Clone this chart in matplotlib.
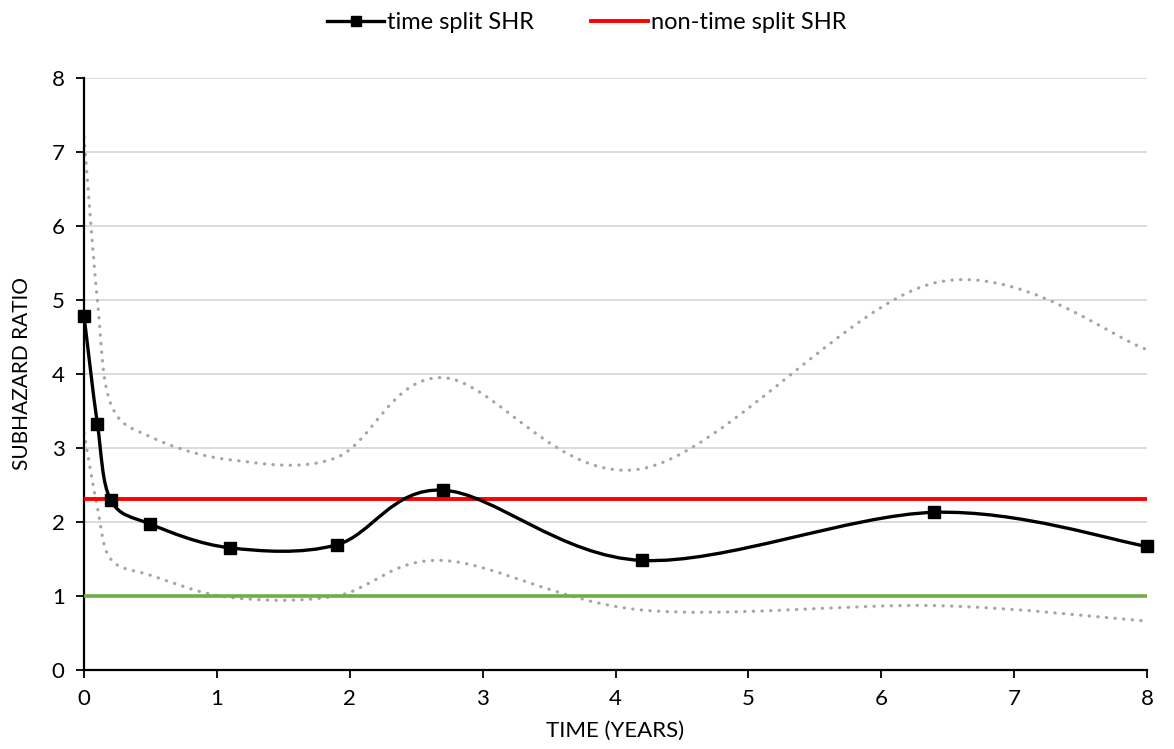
import numpy as np
import matplotlib
matplotlib.use("Agg")
from matplotlib import pyplot as plt
from matplotlib.path import Path
from matplotlib.patches import PathPatch
from matplotlib.lines import Line2D

plt.rcParams['font.family'] = ['Lato', 'DejaVu Sans']

# data
time = [0, 0.1, 0.2, 0.5, 1.1, 1.9, 2.7, 4.2, 6.4, 8]
shr = [4.78, 3.33, 2.30, 1.97, 1.65, 1.69, 2.43, 1.48, 2.13, 1.67]
upper_ci = [7.2, 5.0, 3.6, 3.15, 2.84, 2.87, 3.95, 2.72, 5.23, 4.33]
lower_ci = [3.2, 2.2, 1.5, 1.28, 0.98, 1.0, 1.48, 0.81, 0.87, 0.66]
shr_non_split = 2.31
ref_line = 1.0


def smooth_path(xs, ys):
    # excel-like smoothed line: cubic bezier through every point
    p = np.column_stack([xs, ys]).astype(float)
    n = len(p)
    verts = [p[0]]
    codes = [Path.MOVETO]
    for i in range(n - 1):
        p0 = p[i - 1] if i > 0 else p[i]
        p3 = p[i + 2] if i + 2 < n else p[i + 1]
        c1 = p[i] + (p[i + 1] - p0) / 6
        c2 = p[i + 1] - (p3 - p[i]) / 6
        verts += [c1, c2, p[i + 1]]
        codes += [Path.CURVE4] * 3
    return Path(verts, codes)


fig = plt.figure(figsize=(11.74, 7.49), dpi=100)
ax = fig.add_axes([0.0716, 0.1055, 0.9054, 0.7905])

ax.set_xlim(0, 8)
ax.set_ylim(0, 8)
ax.set_yticks(range(0, 9))
ax.set_xticks(range(0, 9))
ax.grid(axis='y', color='#d9d9d9', lw=1.3, zorder=0)
ax.set_axisbelow(True)

for ci in (upper_ci, lower_ci):
    ax.add_patch(PathPatch(smooth_path(time, ci), fill=False, edgecolor='#a5a5a5',
                           lw=2.3, linestyle=(0, (0.1, 2.6)), capstyle='round', zorder=2))

ax.axhline(ref_line, color='#70ad47', lw=2.6, zorder=3)
ax.axhline(shr_non_split, color='#ff0000', lw=2.8, zorder=3)

ax.add_patch(PathPatch(smooth_path(time, shr), fill=False, edgecolor='black', lw=2.4, zorder=4))
ax.plot(time, shr, ls='none', marker='s', ms=8, color='black', zorder=5, clip_on=False)

for s in ('top', 'right'):
    ax.spines[s].set_visible(False)
for s in ('left', 'bottom'):
    ax.spines[s].set_color('black')
    ax.spines[s].set_linewidth(1.6)
ax.tick_params(direction='out', length=6, width=1.3, color='black', labelsize=16, pad=8)

ax.set_xlabel('TIME (YEARS)', fontsize=16, labelpad=8)
ax.set_ylabel('SUBHAZARD RATIO', fontsize=15, labelpad=14)

handles = [Line2D([], [], color='black', lw=2.4, marker='s', ms=7),
           Line2D([], [], color='#ff0000', lw=2.8)]
fig.legend(handles, ['time split SHR', 'non-time split SHR'], loc='upper center',
           bbox_to_anchor=(0.5, 1.012), ncol=2, frameon=False, fontsize=17,
           handlelength=2.4, handletextpad=0.15, columnspacing=2.4)

fig.savefig('out.png', dpi=100)
